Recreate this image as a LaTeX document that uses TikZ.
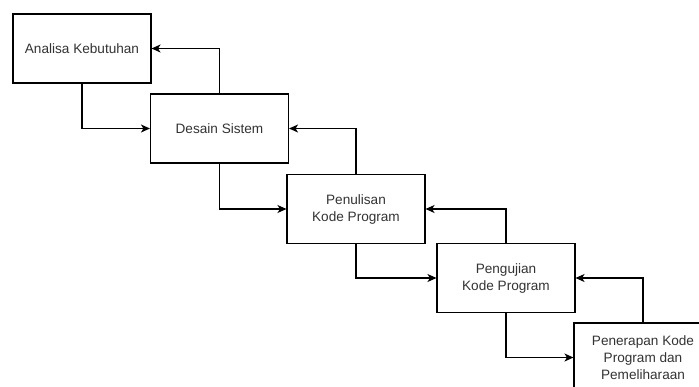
\documentclass[tikz,border=0pt]{standalone}
\usepackage{fontspec}
\setmainfont{Liberation Sans}
\usetikzlibrary{arrows.meta}
\begin{document}
\begin{tikzpicture}[x=1pt,y=-1pt,
  stage/.style={draw, line width=1.1pt, minimum width=138pt, minimum height=69pt,
    align=center, inner sep=0pt, text=black!80,
    font=\fontsize{13.6}{17}\selectfont},
  arr/.style={line width=1.1pt, -{Stealth[length=9pt,width=8pt,inset=2.5pt]}}]
\useasboundingbox (0,0) rectangle (699,386);
\clip (0,0) rectangle (699,386);
\fill[white] (0,0) rectangle (699,386);
\node[stage] (b1) at (82,48.5) {Analisa Kebutuhan};
\node[stage] (b2) at (219.5,128.5) {Desain Sistem};
\node[stage] (b3) at (356,209) {Penulisan\\Kode Program};
\node[stage] (b4) at (506,278) {Pengujian\\Kode Program};
\node[stage] (b5) at (643,357.5) {Penerapan Kode\\Program dan\\Pemeliharaan};
\draw[arr] (b1.south) |- (b2.west);
\draw[arr] (b2.north) |- (b1.east);
\draw[arr] (b2.south) |- (b3.west);
\draw[arr] (b3.north) |- (b2.east);
\draw[arr] (b3.south) |- (b4.west);
\draw[arr] (b4.north) |- (b3.east);
\draw[arr] (b4.south) |- (b5.west);
\draw[arr] (b5.north) |- (b4.east);
\end{tikzpicture}
\end{document}
